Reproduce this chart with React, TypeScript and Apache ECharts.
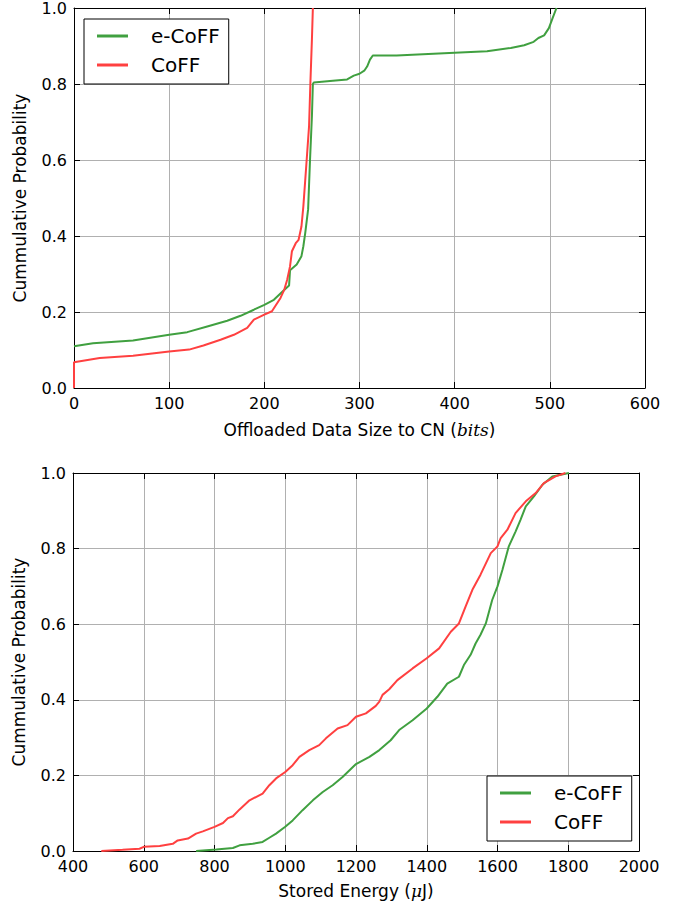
import React, { useEffect, useRef } from 'react';
import * as echarts from 'echarts';

const seriesNames = ['e-CoFF', 'CoFF'];
const seriesColors = ['#40a040', '#ff4040'];

// Top chart: CDF of offloaded data size (bits)
const topECoFF: [number, number][] = [
  [0, 0.11], [20, 0.118], [62, 0.125], [100, 0.14], [119, 0.147], [140, 0.162], [161, 0.177],
  [175, 0.19], [189, 0.206], [200, 0.219], [210, 0.232], [220, 0.256], [226, 0.27], [227, 0.31],
  [234, 0.325], [239, 0.347], [241, 0.373], [243, 0.408], [246, 0.47], [248, 0.6], [250, 0.715],
  [251, 0.8], [252, 0.804], [269, 0.808], [287, 0.812], [294, 0.822], [300, 0.827], [305, 0.835],
  [308, 0.846], [311, 0.864], [314, 0.875], [339, 0.875], [400, 0.882], [434, 0.886], [459, 0.895],
  [473, 0.902], [483, 0.911], [488, 0.921], [494, 0.928], [499, 0.947], [503, 0.974], [507, 1.0],
];
const topCoFF: [number, number][] = [
  [0, 0], [0, 0.068], [27, 0.079], [62, 0.085], [100, 0.096], [121, 0.101], [136, 0.112],
  [154, 0.127], [168, 0.14], [182, 0.158], [189, 0.18], [200, 0.193], [208, 0.202], [217, 0.237],
  [221, 0.259], [224, 0.285], [227, 0.32], [229, 0.36], [233, 0.381], [236, 0.39], [239, 0.425],
  [241, 0.478], [244, 0.583], [247, 0.689], [248.4, 0.803], [250, 0.917], [251, 1.0],
];

// Bottom chart: CDF of stored energy (uJ)
const bottomECoFF: [number, number][] = [
  [748, 0], [805, 0.004], [852, 0.008], [871, 0.015], [908, 0.019], [936, 0.024], [955, 0.035],
  [974, 0.046], [1000, 0.064], [1021, 0.081], [1049, 0.108], [1078, 0.134], [1106, 0.156],
  [1134, 0.174], [1162, 0.196], [1200, 0.23], [1238, 0.249], [1266, 0.267], [1298, 0.293],
  [1322, 0.32], [1360, 0.346], [1400, 0.377], [1430, 0.408], [1458, 0.443], [1491, 0.461],
  [1505, 0.492], [1524, 0.519], [1538, 0.549], [1552, 0.572], [1567, 0.602], [1585, 0.664],
  [1600, 0.7], [1614, 0.744], [1632, 0.806], [1651, 0.845], [1665, 0.876], [1680, 0.912],
  [1703, 0.938], [1727, 0.969], [1755, 0.991], [1802, 1.0],
];
const bottomCoFF: [number, number][] = [
  [480, 0], [540, 0.003], [588, 0.006], [600, 0.011], [645, 0.013], [682, 0.019], [696, 0.028],
  [725, 0.033], [748, 0.046], [767, 0.052], [800, 0.064], [824, 0.074], [838, 0.087], [852, 0.092],
  [871, 0.11], [899, 0.134], [936, 0.152], [955, 0.174], [974, 0.192], [1000, 0.209], [1021, 0.227],
  [1040, 0.249], [1068, 0.267], [1096, 0.28], [1115, 0.298], [1148, 0.324], [1176, 0.333],
  [1200, 0.355], [1228, 0.364], [1256, 0.384], [1266, 0.395], [1275, 0.413], [1294, 0.428],
  [1317, 0.452], [1360, 0.483], [1400, 0.51], [1435, 0.536], [1468, 0.58], [1491, 0.602],
  [1510, 0.647], [1529, 0.691], [1552, 0.731], [1581, 0.788], [1600, 0.806], [1609, 0.828],
  [1628, 0.85], [1651, 0.894], [1680, 0.925], [1708, 0.947], [1731, 0.973], [1764, 0.991],
  [1792, 1.0],
];

const topXRange = { min: 0, max: 600, interval: 100 };
const bottomXRange = { min: 400, max: 2000, interval: 200 };
const yRange = { min: 0, max: 1, interval: 0.2 };

const FONT = 'DejaVu Sans';
const AXIS_COLOR = '#000';
const GRID_COLOR = '#b0b0b0';

function mainX(gridIndex: number, r: any, name: string, nameGap: number) {
  return {
    gridIndex, type: 'value', min: r.min, max: r.max, interval: r.interval, position: 'bottom',
    axisLine: { show: true, onZero: false, lineStyle: { color: AXIS_COLOR, width: 1 } },
    axisTick: { show: true, inside: true, length: 6, lineStyle: { color: AXIS_COLOR } },
    axisLabel: {
      margin: 7, fontSize: 16, color: '#000', fontFamily: FONT, showMinLabel: true, showMaxLabel: true,
      formatter: (v: number) => String(v),
    },
    splitLine: { show: true, lineStyle: { color: GRID_COLOR, width: 1 } },
    name, nameLocation: 'middle', nameGap,
    nameTextStyle: {
      fontSize: 17, color: '#000', fontFamily: FONT,
      rich: { i: { fontSize: 17, fontStyle: 'italic', fontFamily: 'DejaVu Serif', color: '#000' } },
    },
  };
}
function secX(gridIndex: number, r: any) {
  return {
    gridIndex, type: 'value', min: r.min, max: r.max, interval: r.interval, position: 'top',
    axisLine: { show: true, onZero: false, lineStyle: { color: AXIS_COLOR, width: 1 } },
    axisTick: { show: true, inside: true, length: 6, lineStyle: { color: AXIS_COLOR } },
    axisLabel: { show: false }, splitLine: { show: false },
  };
}
function mainY(gridIndex: number) {
  return {
    gridIndex, type: 'value', min: yRange.min, max: yRange.max, interval: yRange.interval, position: 'left',
    axisLine: { show: true, onZero: false, lineStyle: { color: AXIS_COLOR, width: 1 } },
    axisTick: { show: true, inside: true, length: 6, lineStyle: { color: AXIS_COLOR } },
    axisLabel: {
      margin: 7, fontSize: 16, color: '#000', fontFamily: FONT, showMinLabel: true, showMaxLabel: true,
      formatter: (v: number) => v.toFixed(1),
    },
    splitLine: { show: true, lineStyle: { color: GRID_COLOR, width: 1 } },
    name: 'Cummulative Probability', nameLocation: 'middle', nameGap: 46, nameRotate: 90,
    nameTextStyle: { fontSize: 17, color: '#000', fontFamily: FONT },
  };
}
function secY(gridIndex: number) {
  return {
    gridIndex, type: 'value', min: yRange.min, max: yRange.max, interval: yRange.interval, position: 'right',
    axisLine: { show: true, onZero: false, lineStyle: { color: AXIS_COLOR, width: 1 } },
    axisTick: { show: true, inside: true, length: 6, lineStyle: { color: AXIS_COLOR } },
    axisLabel: { show: false }, splitLine: { show: false },
  };
}
function legendAt(left: number, top: number) {
  return {
    data: seriesNames, orient: 'vertical', left, top,
    icon: 'rect', itemWidth: 31, itemHeight: 3, itemGap: 9,
    padding: [7, 9, 9, 13],
    borderColor: '#000', borderWidth: 1, borderRadius: 0, backgroundColor: '#fff',
    textStyle: { fontSize: 20, color: '#000', fontFamily: FONT, padding: [0, 0, 0, 18] },
    selectedMode: false,
  };
}
function line(name: string, color: string, data: [number, number][], axisIndex: number) {
  return {
    type: 'line', name, data, xAxisIndex: axisIndex, yAxisIndex: axisIndex,
    showSymbol: false, symbol: 'none', lineStyle: { color, width: 2 }, itemStyle: { color },
    z: 3,
  };
}

export default function App() {
  const ref = useRef<HTMLDivElement>(null);
  useEffect(() => {
    document.body.style.margin = '0';
    const chart = echarts.init(ref.current!, undefined, { renderer: 'svg' });
    chart.setOption({
      animation: false,
      backgroundColor: '#fff',
      grid: [
        { left: 74, top: 8, width: 571, height: 380, containLabel: false },
        { left: 73, top: 473, width: 566, height: 378, containLabel: false },
      ],
      xAxis: [
        mainX(0, topXRange, 'Offloaded Data Size to CN ({i|bits})', 33),
        secX(0, topXRange),
        mainX(1, bottomXRange, 'Stored Energy ({i|μ}J)', 31),
        secX(1, bottomXRange),
      ],
      yAxis: [mainY(0), secY(0), mainY(1), secY(1)],
      legend: [legendAt(84, 19), legendAt(487, 776)],
      series: [
        line(seriesNames[0], seriesColors[0], topECoFF, 0),
        line(seriesNames[1], seriesColors[1], topCoFF, 0),
        line(seriesNames[0], seriesColors[0], bottomECoFF, 2),
        line(seriesNames[1], seriesColors[1], bottomCoFF, 2),
      ],
    });
    return () => chart.dispose();
  }, []);
  return <div ref={ref} style={{ width: 687, height: 907 }} />;
}
